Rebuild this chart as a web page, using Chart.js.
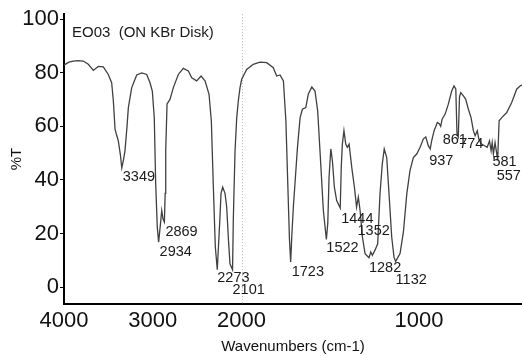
<!DOCTYPE html>
<html>
<head>
<meta charset="utf-8">
<script src="https://cdn.jsdelivr.net/npm/chart.js@4.4.0/dist/chart.umd.min.js"></script>
<style>
html,body{margin:0;padding:0;background:#fff;overflow:hidden}
#wrap{width:522px;height:356px;position:relative}
</style>
</head>
<body>
<div id="wrap"><canvas id="c" width="522" height="356"></canvas></div>
<script>
// ---- data ----
const wavenumbers = [4000,3945,3895,3840,3783,3726,3670,3614,3557,3501,3463,3444,3425,3405,3388,3365,3349,3330,3313,3290,3275,3237,3181,3124,3068,3031,3005,2983,2967,2949,2934,2912,2899,2885,2869,2860,2854,2839,2806,2768,2712,2656,2599,2561,2505,2456,2411,2366,2340,2318,2295,2273,2243,2231,2212,2186,2167,2149,2130,2101,2092,2073,2054,2036,2017,1999,1971,1934,1896,1858,1821,1802,1783,1764,1750,1740,1730,1723,1717,1708,1699,1685,1670,1657,1638,1624,1604,1586,1571,1558,1539,1522,1514,1507,1497,1488,1477,1464,1444,1438,1432,1423,1413,1404,1394,1379,1364,1352,1342,1332,1319,1304,1282,1272,1263,1248,1233,1220,1207,1196,1182,1169,1154,1141,1132,1107,1088,1069,1051,1032,1013,994,976,962,948,937,929,915,897,886,878,870,853,835,816,803,793,786,779,772,765,750,737,722,707,694,684,672,663,650,631,616,603,594,588,581,572,557,549,534,506,478,450,431,420];
const transmittance = [82.9,84.0,84.4,84.6,84.4,83.2,80.9,82.4,82.2,79.4,76.3,69.5,59.0,56.5,54.6,49.5,44.5,47.5,50.9,60.0,67.0,74.5,79.2,80.0,79.4,76.3,73.2,63.3,38.5,22.4,16.8,24.0,28.6,25.5,24.3,35.0,50.9,68.4,70.1,74.5,79.4,81.7,80.7,78.2,77.0,78.8,77.0,72.0,62.0,38.0,15.0,6.5,26.0,35.0,37.3,35.0,29.9,18.7,8.7,6.5,26.0,50.9,63.3,69.5,74.5,77.6,81.3,83.2,84.0,83.8,81.9,78.8,79.2,77.0,62.0,40.0,18.0,9.4,18.7,29.9,38.5,52.0,63.3,66.4,67.0,72.0,74.7,73.2,65.8,50.9,28.6,17.8,24.0,41.0,51.6,47.2,37.3,32.3,29.5,45.0,53.4,58.4,53.4,52.2,53.4,44.7,37.3,29.9,33.6,28.6,18.7,12.5,11.0,13.1,11.9,13.8,16.2,34.8,46.0,51.6,48.4,34.8,18.7,11.2,9.6,12.5,20.6,34.8,43.5,48.4,49.7,52.2,55.3,56.1,52.8,51.6,54.6,58.4,61.5,61.0,60.0,62.7,64.6,68.3,73.2,75.1,74.0,57.0,56.0,71.0,72.6,71.4,70.1,66.4,63.3,58.4,56.5,58.4,55.3,53.5,52.8,52.2,54.6,50.9,54.0,49.7,54.0,47.5,62.1,63.3,65.2,68.9,73.9,75.1,75.5];

const peakLabels = ['3349','2934','2869','2273','2101','1723','1522','1444','1352','1282','1132','937','861','774','581','557'];
const peakWavenumbers = [3349,2934,2869,2273,2101,1723,1522,1444,1352,1282,1132,937,861,774,581,557];
const peakTransmittance = [44.5,16.8,24.3,6.5,6.5,9.4,17.8,29.5,29.9,11.0,9.6,51.6,60.0,56.0,49.7,47.5];

const xTickValues = [4000,3000,2000,1000];
const yTickValues = [0,20,40,60,80,100];
const sampleTitle = 'EO03  (ON KBr Disk)';
const xAxisTitle = 'Wavenumbers (cm-1)';
const yAxisTitle = '%T';
const scaleBreak = 2000;

// ---- styling / layout ----
const FONT = "'Liberation Sans', Arial, Helvetica, sans-serif";
const labelOffsets = [[1,9],[1,10],[1,10],[0,8],[0,20],[1,10],[0,9],[1,11],[1,24],[0,10],[0,19],[-1,12],[-1,14],[0,7],[-1,8],[-1,16]];

// IR split scale: below 2000 cm-1 the axis is expanded 2x
class SplitWavenumberScale extends Chart.LinearScale {
  _units(v) {
    const hi = this.max;
    return v >= scaleBreak ? (hi - v) : (hi - scaleBreak) + 2 * (scaleBreak - v);
  }
  getPixelForValue(v) {
    const total = this._units(this.min);
    return this.left + this.width * this._units(v) / total;
  }
  getValueForPixel(p) {
    const total = this._units(this.min);
    const u = (p - this.left) / this.width * total;
    const hi = this.max;
    if (u <= hi - scaleBreak) return hi - u;
    return scaleBreak - (u - (hi - scaleBreak)) / 2;
  }
}
SplitWavenumberScale.id = 'splitWavenumber';
SplitWavenumberScale.defaults = Chart.LinearScale.defaults;
Chart.register(SplitWavenumberScale);

const annotations = {
  id: 'annotations',
  beforeDatasetsDraw(chart) {
    const {ctx, chartArea, scales} = chart;
    const x = Math.round(scales.x.getPixelForValue(scaleBreak)) + 0.5;
    ctx.save();
    ctx.strokeStyle = '#b0b0b0';
    ctx.lineWidth = 1;
    ctx.setLineDash([1, 2]);
    ctx.beginPath();
    ctx.moveTo(x, chartArea.top);
    ctx.lineTo(x, chartArea.bottom);
    ctx.stroke();
    ctx.restore();
  },
  afterDatasetsDraw(chart) {
    const {ctx, scales} = chart;
    ctx.save();
    ctx.fillStyle = '#1a1a1a';
    ctx.textAlign = 'left';
    ctx.textBaseline = 'middle';
    ctx.font = '14.5px ' + FONT;
    peakLabels.forEach((t, i) => {
      const px = scales.x.getPixelForValue(peakWavenumbers[i]) + labelOffsets[i][0];
      const py = scales.y.getPixelForValue(peakTransmittance[i]) + labelOffsets[i][1];
      ctx.fillText(t, px, py);
    });
    ctx.font = '15px ' + FONT;
    ctx.fillText(sampleTitle, 72, 33);
    ctx.restore();
  }
};

new Chart(document.getElementById('c'), {
  type: 'line',
  data: {
    datasets: [{
      data: wavenumbers.map((w, i) => ({x: w, y: transmittance[i]})),
      borderColor: '#404040',
      borderWidth: 1.3,
      pointRadius: 0,
      tension: 0,
      fill: false
    }]
  },
  options: {
    responsive: false,
    animation: false,
    devicePixelRatio: 1,
    layout: {padding: {top: 13, right: 0, bottom: 0, left: 0}},
    plugins: {legend: {display: false}, tooltip: {enabled: false}},
    scales: {
      x: {
        type: 'splitWavenumber',
        min: 420, max: 4000,
        afterBuildTicks: s => { s.ticks = xTickValues.map(v => ({value: v})); },
        afterFit: s => { s.height = 52; },
        grid: {display: false, drawTicks: false},
        border: {display: true, color: '#000', width: 2},
        ticks: {autoSkip: false, maxRotation: 0, padding: 4, color: '#111',
                font: {family: FONT, size: 22}, callback: v => String(v)},
        title: {display: true, text: xAxisTitle, color: '#111',
                font: {family: FONT, size: 15}, padding: {top: 0, bottom: 0}}
      },
      y: {
        type: 'linear',
        min: -6.3, max: 101.9,
        afterBuildTicks: s => { s.ticks = yTickValues.map(v => ({value: v})); },
        afterFit: s => { s.width = 64; },
        grid: {display: true, drawOnChartArea: false, drawTicks: true, tickLength: 4, color: '#000', lineWidth: 1},
        border: {display: true, color: '#000', width: 2},
        ticks: {padding: 1, color: '#111', font: {family: FONT, size: 22}, callback: v => String(v)},
        title: {display: true, text: yAxisTitle, color: '#111',
                font: {family: FONT, size: 15}, padding: {top: 8, bottom: 0}}
      }
    }
  },
  plugins: [annotations]
});
</script>
</body>
</html>
